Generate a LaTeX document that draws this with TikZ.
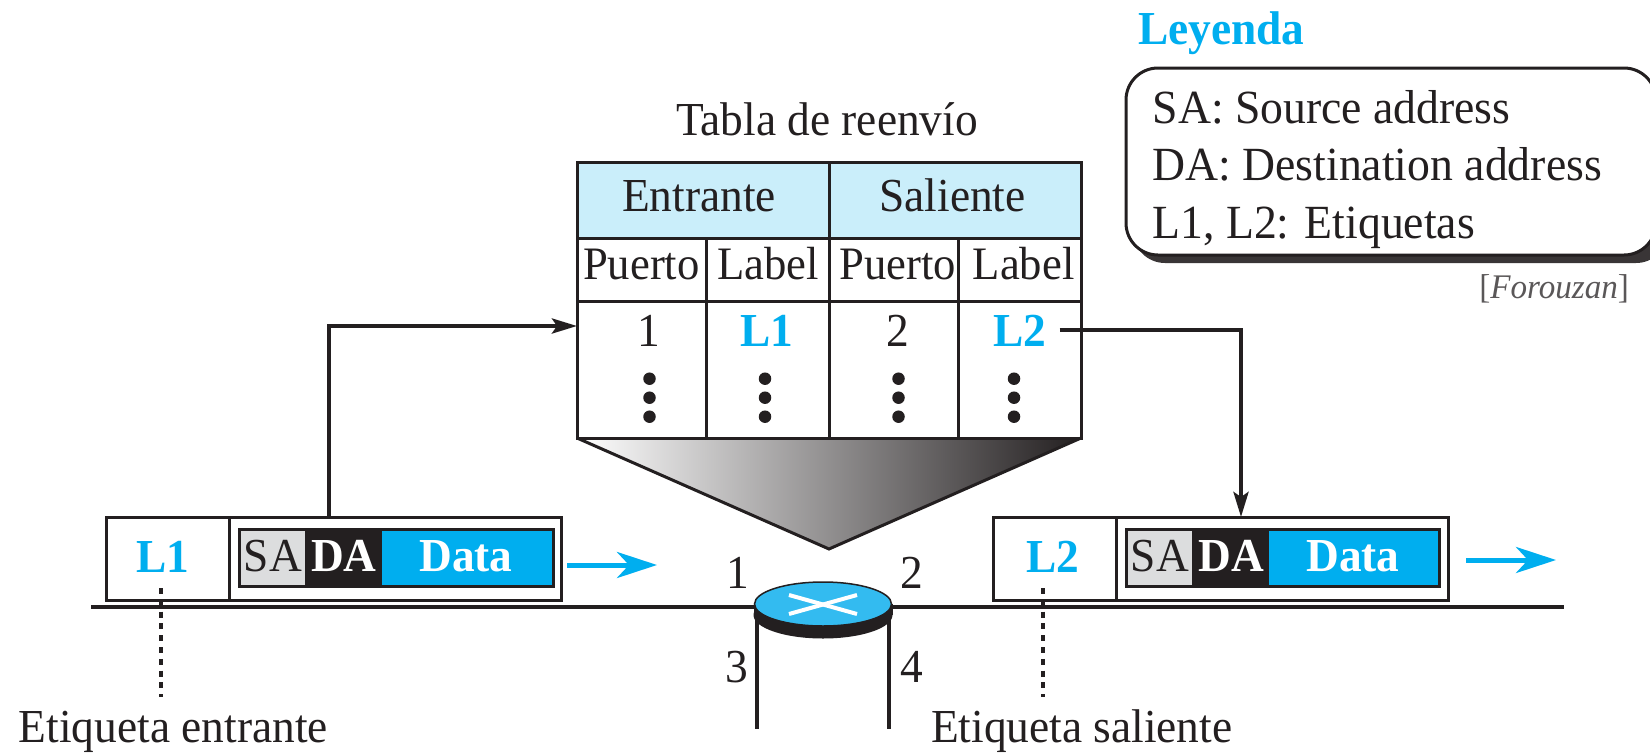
\documentclass[tikz,border=0pt]{standalone}
\usepackage{fontspec}
\setmainfont[FakeStretch=0.96]{Liberation Serif}
\usetikzlibrary{arrows.meta,shapes.geometric}
\definecolor{ink}{HTML}{231F20}
\definecolor{cy}{HTML}{00AEEF}
\definecolor{hdr}{HTML}{CAEEFA}
\definecolor{sagray}{HTML}{DCDDDE}
\definecolor{rtr}{HTML}{33BBF0}
\newcommand\fsz{\fontsize{47.3}{54}\selectfont}
\newcommand\fsy{\fontsize{46.5}{54}\selectfont}
\newcommand\fsl{\fontsize{47.6}{54}\selectfont}
\tikzset{
  every node/.style={inner sep=0pt,outer sep=0pt},
  txt/.style={anchor=base,text=ink,font=\fsz},
  txtl/.style={anchor=base west,text=ink,font=\fsz},
  lab/.style={anchor=base,text=cy,font=\fsz\bfseries},
  wlab/.style={anchor=base,text=white,font=\fsz\bfseries},
  cell/.style={draw=ink,line width=3pt,anchor=north west},
  frame/.style={draw=ink,line width=3pt,anchor=north west,fill=white},
  field/.style={anchor=north west,minimum height=57.7pt},
  conn/.style={draw=ink,line width=4pt,-{Stealth[length=25pt,width=15pt,inset=5pt]}},
  flow/.style={draw=cy,line width=5pt,-{Stealth[length=40pt,width=26pt,inset=12pt]}},
  rail/.style={draw=ink,line width=4.5pt},
  leader/.style={draw=ink,line width=4.5pt,dash pattern=on 6pt off 5.8pt},
  dotk/.style={circle,fill=ink,minimum size=12.5pt},
}
\begin{document}
\begin{tikzpicture}[x=1pt,y=-1pt]
\useasboundingbox (0,0) rectangle (1650,755);
% title
\node[txt] (title) at (827,135) {Tabla de reenv\'{\i}o};
% table
\node[cell,fill=hdr,minimum width=252pt,minimum height=76pt] (hE) at (577,162) {};
\node[cell,fill=hdr,minimum width=252pt,minimum height=76pt] (hS) at (829,162) {};
\node[cell,minimum width=129pt,minimum height=63pt] (s1) at (577,238) {};
\node[cell,minimum width=123pt,minimum height=63pt] (s2) at (706,238) {};
\node[cell,minimum width=129pt,minimum height=63pt] (s3) at (829,238) {};
\node[cell,minimum width=123pt,minimum height=63pt] (s4) at (958,238) {};
\node[cell,minimum width=129pt,minimum height=137pt] (r1) at (577,301) {};
\node[cell,minimum width=123pt,minimum height=137pt] (r2) at (706,301) {};
\node[cell,minimum width=129pt,minimum height=137pt] (r3) at (829,301) {};
\node[cell,minimum width=123pt,minimum height=137pt] (r4) at (958,301) {};
\node[txt] (tE) at (699,211) {Entrante};
\node[txt] (tS) at (952.6,211) {Saliente};
\node[txt,font=\fsy] (p1) at (641.4,279) {Puerto};
\node[txt,font=\fsy] (l1) at (768,279) {Label};
\node[txt,font=\fsy] (p2) at (897.5,279) {Puerto};
\node[txt,font=\fsy] (l2) at (1023.7,279) {Label};
\node[txt] (n1) at (649,346) {1};
\node[lab] (nL1) at (766.5,346) {L1};
\node[txt] (n2) at (897.5,346) {2};
\node[lab] (nL2) at (1020,346) {L2};
\foreach \i/\x in {a/649.5,b/765,c/898.5,d/1014}{
  \node[dotk] (dot\i1) at (\x,378.7) {};
  \node[dotk] (dot\i2) at (\x,397.7) {};
  \node[dotk] (dot\i3) at (\x,416.7) {};
}
% funnel
\shade[left color=white,right color=ink] (577,438) -- (1081,438) -- (829,549) -- cycle;
\draw[draw=ink,line width=3pt,line join=miter] (577,438) -- (829,549) -- (1081,438);
\draw[draw=ink,line width=3pt] (577,438) -- (1081,438);
% network rail
\coordinate (railL) at (91,607);
\coordinate (railR) at (1564,607);
\draw[rail] (railL) -- (railR);
% legs
\coordinate (legAt) at (757,612);
\coordinate (legAb) at (757,729);
\coordinate (legBt) at (889,612);
\coordinate (legBb) at (889,729);
\draw[rail] (legAt) -- (legAb);
\draw[rail] (legBt) -- (legBb);
% router
\node[ellipse,fill=ink,minimum width=139pt,minimum height=47pt] (rbase) at (823,615) {};
\fill[ink] (753.5,604) rectangle (892.5,615);
\node[ellipse,fill=rtr,draw=ink,line width=1.5pt,minimum width=137pt,minimum height=44pt] (router) at (823,604) {};
\draw[white,line width=4pt] (789,595) -- (857,614);
\draw[white,line width=4pt] (789,614) -- (857,595);
\node[txt] (pt1) at (738,588) {1};
\node[txt] (pt2) at (911.5,588) {2};
\node[txt] (pt3) at (737,682) {3};
\node[txt] (pt4) at (912,682) {4};
% packet left
\node[frame,minimum width=123pt,minimum height=83pt] (lb1) at (106,517) {};
\node[frame,minimum width=332pt,minimum height=83pt] (pk1) at (229,517) {};
\node[field,fill=sagray,minimum width=66pt] (sa1) at (239,529) {};
\node[field,fill=ink,minimum width=77pt] (da1) at (305,529) {};
\node[field,fill=cy,minimum width=171pt] (dt1) at (382,529) {};
\draw[ink,line width=3pt] (239,529) rectangle (553,586.7);
\node[lab] (L1) at (163,572.7) {L1};
\node[txt] (tsa1) at (273,571) {SA};
\node[wlab] (tda1) at (344,571) {DA};
\node[wlab] (tdt1) at (466,571) {Data};
\coordinate (fa1) at (567,565);
\coordinate (fb1) at (657,565);
\draw[flow] (fa1) -- (fb1);
% packet right
\node[frame,minimum width=123pt,minimum height=83pt] (lb2) at (993,517) {};
\node[frame,minimum width=332pt,minimum height=83pt] (pk2) at (1116,517) {};
\node[field,fill=sagray,minimum width=66pt] (sa2) at (1126,529) {};
\node[field,fill=ink,minimum width=77pt] (da2) at (1192,529) {};
\node[field,fill=cy,minimum width=171pt] (dt2) at (1269,529) {};
\draw[ink,line width=3pt] (1126,529) rectangle (1439,586.7);
\node[lab] (L2) at (1053,572.7) {L2};
\node[txt] (tsa2) at (1160,571) {SA};
\node[wlab] (tda2) at (1231,571) {DA};
\node[wlab] (tdt2) at (1353,571) {Data};
\coordinate (fa2) at (1466,560);
\coordinate (fb2) at (1556,560);
\draw[flow] (fa2) -- (fb2);
% leaders
\coordinate (ld1) at (161,697);
\coordinate (ld2) at (1043,697);
\draw[leader] (161,588) -- (ld1);
\draw[leader] (1043,588) -- (ld2);
\node[txtl] (etE) at (19,742) {Etiqueta entrante};
\node[txtl] (etS) at (931,742) {Etiqueta saliente};
% connectors
\coordinate (k1) at (329,326);
\draw[conn] ([xshift=100pt]pk1.north west) -- (k1) -- (k1 -| r1.west);
\draw[conn] ([xshift=13pt]nL2.east) -| ([xshift=125pt]pk2.north west);
% legend
\node[txtl,text=cy,font=\fsz\bfseries] (ley) at (1138,44) {Leyenda};
\node[anchor=north west,fill=ink!90!white,rounded corners=32pt,minimum width=535pt,minimum height=187pt] (lgS) at (1133,76) {};
\node[anchor=north west,fill=white,draw=ink,line width=3pt,rounded corners=32pt,minimum width=530pt,minimum height=187pt] (lg) at (1126,68) {};
\node[txtl,font=\fsl] (lg1) at (1152.6,123) {SA: Source address};
\node[txtl,font=\fsl] (lg2) at (1152.6,180) {DA: Destination address};
\node[txtl,font=\fsl] (lg3) at (1152.6,238) {L1, L2: Etiquetas};
\node[anchor=base east,text=ink!75!white,font=\fontsize{34.5}{38}\selectfont] (src) at (1629,298) {[\textit{Forouzan}]};
\end{tikzpicture}
\end{document}
